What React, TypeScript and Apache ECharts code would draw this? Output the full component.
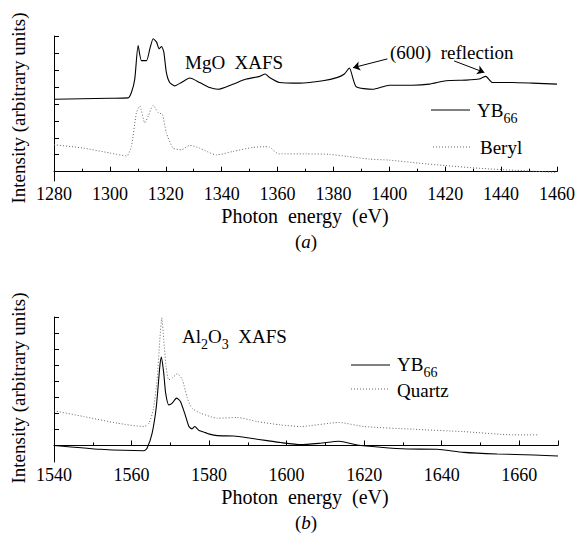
import React, { useEffect, useRef } from "react";
import * as echarts from "echarts";

// ---- Panel (a): MgO XAFS ----
const mgoYB66Energy = [1280, 1290, 1300, 1306.5, 1307.7, 1308.9, 1310.1, 1311.3, 1313.1, 1314.3, 1315.5, 1316.7, 1317.6, 1318.5, 1319.3, 1320.2, 1321.4, 1323.2, 1325.6, 1328.6, 1332.1, 1335.7, 1338.7, 1344, 1348.8, 1353.6, 1355.6, 1357.1, 1360.7, 1367.9, 1376.2, 1381.5, 1383.9, 1385.7, 1388.1, 1394, 1400, 1408.3, 1414.3, 1420.3, 1427.4, 1432.1, 1434.5, 1436.9, 1444, 1451.2, 1460];
const mgoYB66Values = [4.27, 4.3, 4.33, 4.35, 4.67, 5.46, 7.44, 6.55, 6.55, 7.24, 7.84, 7.64, 7.24, 7.38, 7.05, 5.86, 5.26, 5.06, 5.26, 5.52, 5.26, 4.96, 4.86, 5.16, 5.46, 5.62, 5.76, 5.56, 5.26, 5.22, 5.36, 5.56, 5.76, 6.11, 5.02, 4.86, 5.1, 5.1, 5.16, 5.36, 5.4, 5.46, 5.62, 5.26, 5.26, 5.22, 5.16];
const berylEnergy = [1280, 1290.5, 1300, 1306, 1307.7, 1309.5, 1310.7, 1312.5, 1313.7, 1315.5, 1317.3, 1318.8, 1320.2, 1322.6, 1325.6, 1328.6, 1332.1, 1338.1, 1344, 1351.2, 1355.4, 1357.1, 1360.4, 1370.2, 1378.6, 1385, 1392.9, 1400, 1410.7, 1420, 1432.1, 1445, 1460];
const berylValues = [1.59, 1.39, 1.1, 0.93, 1.49, 3.48, 3.87, 2.88, 3.27, 3.91, 3.48, 3.38, 2.29, 1.39, 1.29, 1.55, 1.39, 0.99, 1.19, 1.43, 1.47, 1.45, 1.05, 1.05, 1.02, 0.9, 0.74, 0.68, 0.5, 0.36, 0.2, 0.08, -0.04];

// ---- Panel (b): Al2O3 XAFS ----
const alYB66Energy = [1540, 1552, 1563.2, 1564, 1565.3, 1566.4, 1567.3, 1567.7, 1568.3, 1568.8, 1569.6, 1570.5, 1571.6, 1572.6, 1573.7, 1574.8, 1575.6, 1576.3, 1577.4, 1579.1, 1579.9, 1582.1, 1586.4, 1590.7, 1595, 1598.4, 1603.6, 1608.7, 1613.5, 1618.2, 1624.2, 1631.1, 1638.8, 1645.7, 1654.3, 1663.8, 1670];
const alYB66Values = [0, -0.24, -0.33, -0.18, 0.76, 2.43, 4.93, 5.51, 4.51, 3.26, 2.53, 2.64, 2.95, 2.74, 2.01, 1.18, 1.03, 1.18, 0.93, 0.8, 0.72, 0.61, 0.59, 0.45, 0.3, 0.18, 0.05, 0.14, 0.26, 0.03, -0.11, -0.22, -0.24, -0.43, -0.53, -0.59, -0.66];
const quartzEnergy = [1540, 1547.7, 1556.3, 1563.2, 1564.5, 1565.6, 1566.6, 1567.3, 1567.8, 1568.3, 1568.9, 1569.6, 1570.5, 1571.8, 1573.1, 1574.4, 1575.6, 1577.8, 1582.1, 1587.3, 1592.4, 1598.4, 1603.6, 1613.5, 1619.9, 1632.8, 1645.7, 1658.6, 1665];
const quartzValues = [2.16, 1.8, 1.39, 1.18, 1.39, 2.22, 4.09, 6.59, 7.95, 6.59, 4.93, 4.09, 4.2, 4.47, 4.09, 2.95, 2.32, 2.01, 1.7, 1.74, 1.49, 1.28, 1.18, 1.43, 1.18, 1.01, 0.86, 0.66, 0.66];

const yTicks = [0, 1, 2, 3, 4, 5, 6, 7, 8];

const FONT = "Liberation Serif";

const zip = (xs: number[], ys: number[]) => xs.map((x, i) => [x, ys[i]]);

function xAxisCfg(gridIndex: number, min: number, max: number) {
  return {
    type: "value",
    gridIndex,
    min,
    max,
    interval: 20,
    axisLine: { show: true, lineStyle: { color: "#000", width: 1 } },
    axisTick: { show: true, inside: true, length: 5, lineStyle: { color: "#000" } },
    minorTick: { show: true, splitNumber: 2, length: 3, lineStyle: { color: "#000" } },
    axisLabel: {
      color: "#000",
      fontSize: 18,
      fontFamily: FONT,
      margin: 4,
      showMaxLabel: max % 20 === 0,
      formatter: (v: number) => String(v),
    },
    splitLine: { show: false },
    minorSplitLine: { show: false },
  };
}

function yAxisCfg(gridIndex: number, min: number) {
  return {
    type: "value",
    gridIndex,
    min,
    max: 8,
    axisLine: { show: true, lineStyle: { color: "#000", width: 1 } },
    axisTick: { show: true, inside: true, length: 5, customValues: yTicks, lineStyle: { color: "#000" } },
    axisLabel: { show: false },
    splitLine: { show: false },
  };
}

const solid = { color: "#000", width: 1.1, type: "solid" };
const dotted = { color: "#666", width: 1, type: [1, 2] };

function sub(main: string, s: string) {
  return `{a|${main}}{s|${s}}`;
}
const richSub = {
  a: { fontSize: 19, fontFamily: FONT, fill: "#000", lineHeight: 20, verticalAlign: "top" },
  s: { fontSize: 14, fontFamily: FONT, fill: "#000", lineHeight: 14, verticalAlign: "top", padding: [10, 0, 0, 0] },
};

function txt(x: number, y: number, text: string, align = "left", size = 19) {
  return {
    type: "text",
    x,
    y,
    silent: true,
    style: { text, fill: "#000", fontSize: size, fontFamily: FONT, align, verticalAlign: "middle" },
  };
}

function richTxt(x: number, y: number, text: string) {
  return {
    type: "text",
    x,
    y,
    silent: true,
    style: { text, rich: richSub, fill: "#000", fontFamily: FONT, align: "left", verticalAlign: "middle" },
  };
}

function legendLine(x1: number, x2: number, y: number, style: any) {
  return {
    type: "line",
    silent: true,
    shape: { x1, y1: y, x2, y2: y },
    style: { stroke: style.color, lineWidth: 1, lineDash: style.type === "solid" ? null : [1, 2] },
  };
}

function panelLabel(y: number, letter: string) {
  return {
    type: "text",
    x: 306,
    y,
    silent: true,
    style: {
      text: `{n|(}{i|${letter}}{n|)}`,
      fill: "#000",
      fontSize: 19,
      fontFamily: FONT,
      align: "center",
      verticalAlign: "middle",
      rich: {
        n: { fontSize: 19, fontFamily: FONT, fill: "#000" },
        i: { fontSize: 19, fontFamily: FONT, fontStyle: "italic", fill: "#000" },
      },
    },
  };
}

export default function App() {
  const ref = useRef<HTMLDivElement>(null);
  useEffect(() => {
    if (!ref.current) return;
    const chart = echarts.init(ref.current, null, { renderer: "svg" });
    chart.setOption({
      animation: false,
      backgroundColor: "#fff",
      textStyle: { fontFamily: FONT },
      grid: [
        { left: 54, top: 36, width: 504, height: 145 },
        { left: 54, top: 317, width: 504, height: 145 },
      ],
      xAxis: [xAxisCfg(0, 1280, 1460), xAxisCfg(1, 1540, 1670)],
      yAxis: [yAxisCfg(0, -0.55), yAxisCfg(1, -1.03)],
      series: [
        {
          name: "YB66 (a)",
          type: "line",
          xAxisIndex: 0,
          yAxisIndex: 0,
          data: zip(mgoYB66Energy, mgoYB66Values),
          showSymbol: false,
          smooth: 0.2,
          lineStyle: solid,
          markLine: {
            silent: true,
            symbol: ["none", "arrow"],
            symbolSize: 7,
            label: { show: false },
            lineStyle: { color: "#000", width: 1, type: "solid" },
            data: [
              [{ coord: [1399.3, 6.65] }, { coord: [1387.0, 6.13] }],
              [{ coord: [1423.2, 6.53] }, { coord: [1434.0, 5.85] }],
            ],
          },
        },
        {
          name: "Beryl",
          type: "line",
          xAxisIndex: 0,
          yAxisIndex: 0,
          data: zip(berylEnergy, berylValues),
          showSymbol: false,
          smooth: 0.2,
          lineStyle: dotted,
        },
        {
          name: "YB66 (b)",
          type: "line",
          xAxisIndex: 1,
          yAxisIndex: 1,
          data: zip(alYB66Energy, alYB66Values),
          showSymbol: false,
          smooth: 0.2,
          lineStyle: solid,
        },
        {
          name: "Quartz",
          type: "line",
          xAxisIndex: 1,
          yAxisIndex: 1,
          data: zip(quartzEnergy, quartzValues),
          showSymbol: false,
          smooth: 0.2,
          lineStyle: dotted,
        },
      ],
      graphic: [
        // axis titles
        { ...txt(18, 108, "Intensity (arbitrary units)", "center"), rotation: Math.PI / 2 },
        { ...txt(18, 388, "Intensity (arbitrary units)", "center"), rotation: Math.PI / 2 },
        txt(305, 216, "Photon  energy  (eV)", "center", 20),
        txt(305, 497, "Photon  energy  (eV)", "center", 20),
        panelLabel(241, "a"),
        panelLabel(522, "b"),
        // annotations
        txt(185, 62, "MgO  XAFS"),
        txt(390, 52, "(600)  reflection"),
        {
          type: "text",
          x: 182,
          y: 337,
          silent: true,
          style: { text: sub("Al", "2") + sub("O", "3") + "{a|  XAFS}", rich: richSub, fill: "#000", fontFamily: FONT, align: "left", verticalAlign: "middle" },
        },
        // legend (a)
        legendLine(431, 470, 110, solid),
        richTxt(477, 111, sub("YB", "66")),
        legendLine(433, 470, 147, dotted),
        txt(480, 147, "Beryl"),
        // legend (b)
        legendLine(351, 390, 365, solid),
        richTxt(397, 365, sub("YB", "66")),
        legendLine(351, 390, 389, dotted),
        txt(397, 390, "Quartz"),
      ],
    });
    return () => chart.dispose();
  }, []);
  return (
    <div
      ref={ref}
      style={{ position: "fixed", left: 0, top: 0, width: 578, height: 540, background: "#fff" }}
    />
  );
}
